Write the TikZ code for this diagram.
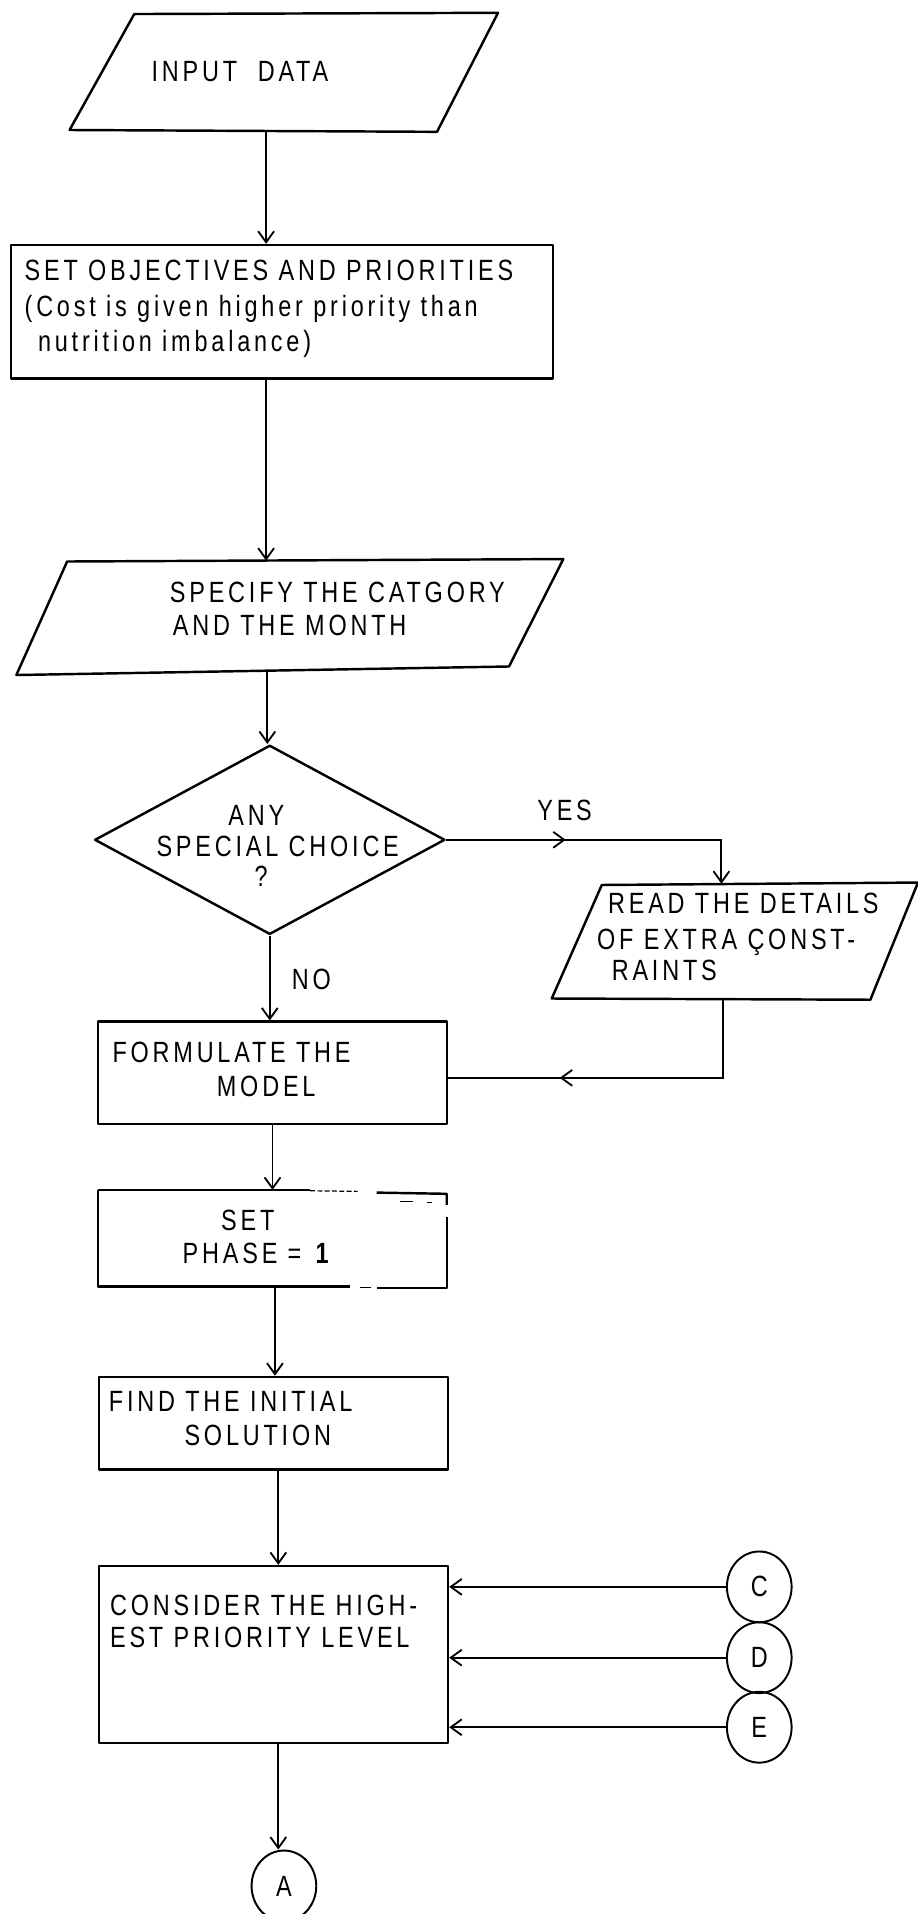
\documentclass[tikz,border=0pt]{standalone}
\usepackage{fontspec}
\setmainfont{Liberation Sans}[LetterSpace=13,FakeStretch=0.8]
\usetikzlibrary{arrows.meta,shapes.geometric,decorations.markings}
\newcommand\myfs{\fontsize{24}{25}\selectfont}
\begin{document}
\begin{tikzpicture}[x=1pt,y=-1pt,
  shapeline/.style={line width=2pt, line join=round},
  conn/.style={line width=1.6pt},
  barb/.style={-{Straight Barb[length=9pt,width=13pt,line width=1.5pt]}},
  txt/.style={inner sep=0pt, anchor=base west, font=\myfs},
  ctxt/.style={inner sep=0pt, anchor=base, font=\myfs},
  boxnode/.style={draw, shapeline, rectangle, inner sep=0pt},
  conncircle/.style={draw, ellipse, line width=1.6pt, inner sep=0pt, minimum width=53pt, minimum height=58pt, font=\myfs},
  midbarb/.style={postaction={decorate}, decoration={markings, mark=at position #1 with {\arrow{Straight Barb[length=9pt,width=13pt,line width=1.5pt]}}}}]
\useasboundingbox (0,0) rectangle (752,1568);

% input data
\draw[shapeline] (110,11.5) -- (408,10.5) -- (358,108) -- (57,106.5) -- cycle;
\node[txt] (tin) at (124,67) {INPUT\ \ DATA};
\coordinate (p1b) at (218,107.3);

% objectives
\node[boxnode, minimum width=444.4pt, minimum height=109.3pt] (obj) at (231,255.4) {};
\node[txt] (tobj1) at (20,229.5) {SET OBJECTIVES AND PRIORITIES};
\node[txt] (tobj2) at (20,259) {(Cost is given higher priority than};
\node[txt] (tobj3) at (31,288) {nutrition imbalance)};
\draw[conn,barb] (p1b) -- (p1b |- obj.north);

% specify
\draw[shapeline] (55,460) -- (461.5,458) -- (417,546) -- (13.4,553) -- cycle;
\coordinate (p3t) at (218,459.3);
\coordinate (p3b) at (219,549.5);
\node[txt] (tsp1) at (139,493.2) {SPECIFY THE CATGORY};
\node[txt] (tsp2) at (141.5,520.5) {AND THE MONTH};
\draw[conn,barb] (p3t |- obj.south) -- (p3t);

% decision
\node[draw, shapeline, diamond, minimum width=287pt, minimum height=155pt, inner sep=0pt] (dec) at (221,688) {};
\node[ctxt] (td1) at (210,676) {ANY};
\node[ctxt] (td2) at (227.5,702) {SPECIAL CHOICE};
\node[ctxt] (td3) at (214,726.5) {?};
\draw[conn,barb] (p3b) -- (p3b |- dec.north);

% extra constraints
\draw[shapeline] (493,725) -- (752,723) -- (713,819) -- (452,818) -- cycle;
\coordinate (p4t) at (591,724);
\coordinate (p4b) at (592,818.5);
\node[txt] (tr1) at (498,748.5) {READ THE DETAILS};
\node[txt] (tr2) at (489,777.5) {OF EXTRA ÇONST-};
\node[txt] (tr3) at (501,803.5) {RAINTS};
\draw[conn,barb,midbarb=98pt] (dec.east) -| (p4t);
\node[txt] (tyes) at (440,672) {YES};

% formulate
\node[boxnode, minimum width=285.5pt, minimum height=84pt] (form) at (223.25,879) {};
\node[txt] (tf1) at (92,870.5) {FORMULATE THE};
\node[txt] (tf2) at (177.5,898.5) {MODEL};
\draw[conn,barb] (dec.south) -- (dec.south |- form.north);
\node[txt] (tno) at (239,810.5) {NO};
\coordinate (rc) at (592,883);
\draw[conn,midbarb=198pt] (p4b) -- (rc) -- (rc -| form.east);

% set phase (box with broken top-right corner)
\node[inner sep=0pt, minimum width=285.5pt, minimum height=79pt] (phase) at (223.25,1014.5) {};
\draw[shapeline] (80.5,975) -- (254,975);
\draw[line width=1pt, dash pattern=on 4pt off 2pt] (254,975.5) -- (293,976);
\draw[shapeline] (308.6,977) -- (366,978) -- (366,987);
\draw[shapeline] (366,997) -- (366,1055) -- (308.6,1055);
\draw[line width=1pt] (295,1054.5) -- (303.6,1054.5);
\draw[shapeline] (286.7,1054) -- (80.5,1054) -- (80.5,975);
\draw[line width=1.2pt] (327.7,984.4) -- (338.6,984.4);
\draw[line width=1.2pt] (349.5,985) -- (353.6,985);
\node[ctxt] (tp1) at (203,1008) {SET};
\node[ctxt] (tp2) at (211,1035) {PHASE = \textbf{1}};
\draw[conn,barb] (form.south) -- (phase.north);

% initial solution
\node[boxnode, minimum width=286pt, minimum height=76pt] (init) at (224,1166) {};
\node[txt] (ti1) at (89,1156.5) {FIND THE INITIAL};
\node[txt] (ti2) at (151,1184) {SOLUTION};
\draw[conn,barb] ([xshift=2pt]phase.south) -- ([xshift=2pt]phase.south |- init.north);

% highest priority
\node[boxnode, minimum width=286pt, minimum height=145pt] (cons) at (224,1355.5) {};
\node[txt] (tc1) at (90,1323.5) {CONSIDER THE HIGH-};
\node[txt] (tc2) at (90,1349.5) {EST PRIORITY LEVEL};
\draw[conn,barb] ([xshift=4pt]init.south) -- ([xshift=4pt]cons.north);

% connectors
\node[conncircle] (C) at (622,1300) {C};
\node[conncircle] (D) at (622,1358) {D};
\node[conncircle] (E) at (622,1415) {E};
\node[conncircle] (A) at (232.6,1545) {A};
\draw[conn,barb] (C.west) -- (C.west -| cons.east);
\draw[conn,barb] (D.west) -- (D.west -| cons.east);
\draw[conn,barb] (E.west) -- (E.west -| cons.east);
\draw[conn,barb] ([xshift=4pt]cons.south) -- ([xshift=4pt]cons.south |- A.north);
\end{tikzpicture}
\end{document}
